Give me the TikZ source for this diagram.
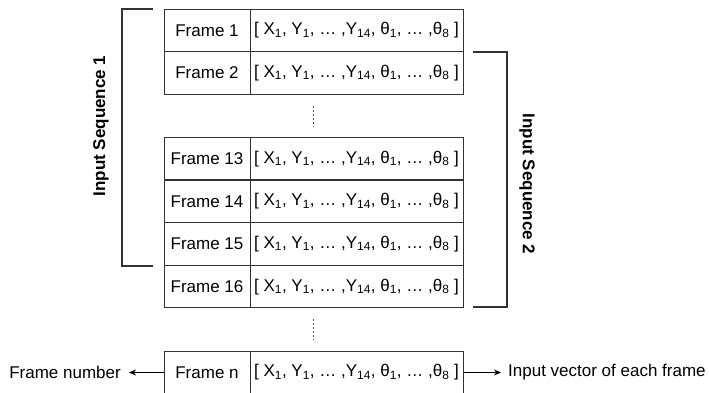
\documentclass[tikz,border=0pt]{standalone}
\usepackage{fontspec}
\setmainfont{Liberation Sans}
\usetikzlibrary{arrows.meta}
\definecolor{ink}{HTML}{333333}
\newcommand{\vsub}[1]{\textsubscript{#1}}
\newcommand{\featvec}{[ X\vsub{1}, Y\vsub{1}, … ,Y\vsub{14}, θ\vsub{1}, … ,θ\vsub{8} ]}
\tikzset{
  txt/.style={font=\fontsize{17}{20}\selectfont, text=black},
  idcell/.style={txt, draw=ink, line width=1pt, minimum width=86pt, minimum height=42.5pt, inner sep=0pt},
  veccell/.style={txt, draw=ink, line width=1pt, minimum width=213pt, minimum height=42.5pt, inner sep=0pt},
  bracket/.style={draw=ink, line width=2pt},
  gap/.style={draw=ink!80, line width=0.8pt, dash pattern=on 2pt off 2pt},
  seqlabel/.style={txt, font=\fontsize{17}{20}\selectfont\bfseries},
  pointer/.style={draw=black, line width=1pt, -{Stealth[length=7pt,width=6pt]}},
}
\begin{document}
\begin{tikzpicture}[x=1pt,y=-1pt]
\useasboundingbox (0,0) rectangle (709,392);

% table rows: frame id cell + feature vector cell
\foreach \nm/\lab/\yc in {r1/1/30.5, r2/2/73, r13/13/158.7, r14/14/201.3, r15/15/244, r16/16/286.7, rn/n/372.5} {
  \node[idcell] (\nm l) at (207,\yc) {Frame \lab};
  \node[veccell] (\nm v) at (356.5,\yc) {\featvec};
}

% vertical ellipsis between row groups
\coordinate (g1a) at (313,106);
\coordinate (g1b) at (313,127);
\coordinate (g2a) at (313,319);
\coordinate (g2b) at (313,340);
\draw[gap] (g1a) -- (g1b);
\draw[gap] (g2a) -- (g2b);

% sequence brackets
\draw[bracket] (153,9.3) -- (122,9.3) -- (122,265.5) -- (153,265.5);
\draw[bracket] (473,52) -- (506.5,52) -- (506.5,307) -- (473,307);
\node[seqlabel, rotate=90] (seq1) at (101,126) {Input Sequence 1};
\node[seqlabel, rotate=-90] (seq2) at (527,184) {Input Sequence 2};

% annotations of the last row
\node[txt, anchor=east, inner sep=0pt] (fnum) at (121,372.5) {Frame number};
\node[txt, anchor=west, inner sep=0pt] (fvec) at (508,372.5) {Input vector of each frame};
\coordinate (fnumtip) at (129,372.5);
\coordinate (fvectip) at (501,372.5);
\draw[pointer] (rnl.west) -- (fnumtip);
\draw[pointer] (rnv.east) -- (fvectip);
\end{tikzpicture}
\end{document}
